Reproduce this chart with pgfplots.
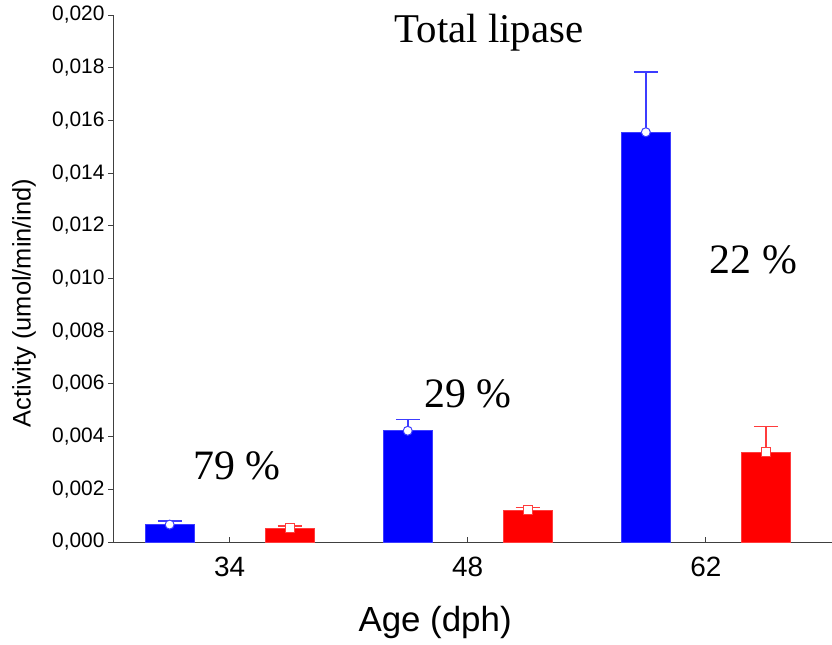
\documentclass[border=0pt]{standalone}
\usepackage{pgfplots}
\usepackage{pgfplotstable}
\pgfplotsset{compat=1.18}
\usetikzlibrary{arrows.meta}
\usepackage{fontspec}
\setmainfont{Liberation Sans}
\newfontfamily\serifface{Liberation Serif}

\definecolor{barblue}{RGB}{0,0,255}
\definecolor{barred}{RGB}{255,0,0}
\definecolor{errblue}{RGB}{60,60,255}
\definecolor{errred}{RGB}{255,60,60}

% x position, mean activity, upper standard deviation
\pgfplotstableread{
x       y        e
-0.252  0.00066  0.00016
0.748   0.00422  0.00045
1.748   0.01555  0.00231
}\groupA
\pgfplotstableread{
x       y        e
0.252   0.00053  0.00010
1.252   0.00121  0.00013
2.252   0.00340  0.00100
}\groupB

\begin{document}
\begin{tikzpicture}[x=1bp,y=1bp]
\useasboundingbox (0,0) rectangle (832,645);
\begin{axis}[
  at={(113bp,103bp)}, anchor=south west,
  scale only axis, width=719bp, height=527bp,
  xmin=-0.49, xmax=2.53, ymin=0, ymax=0.02,
  axis x line=bottom, axis y line=left,
  axis line style={-, draw=black!75, line width=0.9bp},
  xtick={0,1,2}, xticklabels={34,48,62},
  ytick={0,0.002,0.004,0.006,0.008,0.010,0.012,0.014,0.016,0.018,0.020},
  scaled y ticks=false,
  y tick label style={font=\fontsize{21}{25}\selectfont,
    /pgf/number format/fixed, /pgf/number format/fixed zerofill,
    /pgf/number format/precision=3, /pgf/number format/use comma},
  /pgf/number format/assume math mode=true,
  x tick label style={font=\fontsize{28}{32}\selectfont, yshift=-7bp},
  tick align=outside, major tick length=5bp,
  tick style={draw=black!75, line width=0.9bp},
  xtick style={yshift=5bp},
  xlabel={Age (dph)},
  xlabel style={font=\fontsize{35}{40}\selectfont, at={(axis description cs:0.448,-0.152)}, anchor=center},
  ylabel={Activity (umol/min/ind)},
  ylabel style={font=\fontsize{25.5}{30}\selectfont, at={(axis description cs:-0.1238,0.4535)}, anchor=center},
  clip=false,
]
% bars
\addplot[ybar, bar shift=0pt, bar width=49bp, fill=barblue, draw=errblue, line width=0.6bp]
  table[x=x, y=y] {\groupA};
\addplot[ybar, bar shift=0pt, bar width=49bp, fill=barred, draw=errred, line width=0.6bp]
  table[x=x, y=y] {\groupB};

% upper whiskers with caps
\addplot[errblue, line width=1.5bp, mark=none, -{Bar[width=24bp, line width=1.3bp]},
  quiver={u=0, v=\thisrow{e}}] table[x=x, y=y] {\groupA};
\addplot[errred, line width=1.5bp, mark=none, -{Bar[width=24bp, line width=1.3bp]},
  quiver={u=0, v=\thisrow{e}}] table[x=x, y=y] {\groupB};

% mean markers
\addplot[only marks, mark=*, mark size=4.5bp,
  mark options={fill=white, draw=errblue, line width=1bp}] table[x=x, y=y] {\groupA};
\addplot[only marks, mark=square*, mark size=4.5bp,
  mark options={fill=white, draw=errred, line width=1bp}] table[x=x, y=y] {\groupB};

% relative share labels
\node[font=\serifface\fontsize{42}{48}\selectfont] at (axis cs:0.03,0.00288) {79 \%};
\node[font=\serifface\fontsize{42}{48}\selectfont] at (axis cs:1.0,0.00562) {29 \%};
\node[font=\serifface\fontsize{42}{48}\selectfont] at (axis cs:2.2,0.0107) {22 \%};
\node[font=\serifface\fontsize{41}{48}\selectfont] at (rel axis cs:0.523,0.966) {Total lipase};
\end{axis}
\end{tikzpicture}
\end{document}
